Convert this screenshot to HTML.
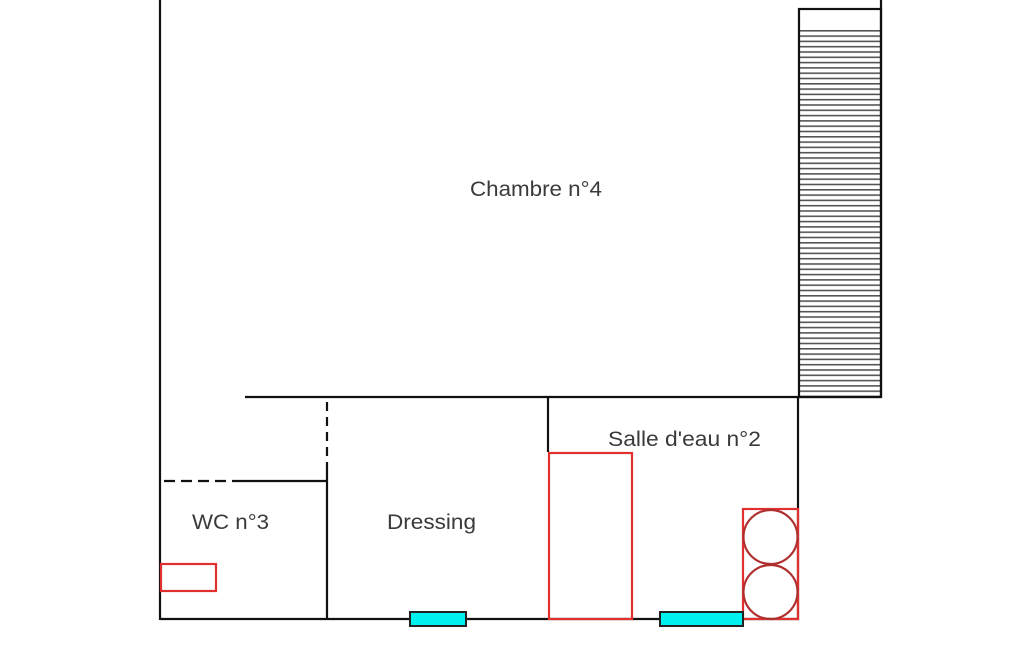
<!DOCTYPE html>
<html><head><meta charset="utf-8"><style>
html,body{margin:0;padding:0;background:#fff;}
svg{display:block;}
text{font-family:"Liberation Sans",Arial,sans-serif;fill:#3a3a3a;}
</style></head><body>
<svg width="1025" height="650" viewBox="0 0 1025 650" xmlns="http://www.w3.org/2000/svg">
<defs>
<pattern id="h" x="0" y="30" width="10" height="5.3" patternUnits="userSpaceOnUse">
<rect x="0" y="0" width="10" height="1.6" fill="#555"/>
</pattern>
</defs>
<rect width="1025" height="650" fill="#fff"/>
<rect x="799" y="30" width="82" height="366" fill="url(#h)"/>
<g stroke="#111" stroke-width="2.2" fill="none">
<rect x="799" y="9" width="82" height="388"/>
<line x1="881" y1="0" x2="881" y2="397"/>
<line x1="160" y1="0" x2="160" y2="620"/>
<line x1="245" y1="397" x2="881" y2="397"/>
<line x1="160" y1="619" x2="799" y2="619"/>
<line x1="798" y1="397" x2="798" y2="620"/>
<line x1="548" y1="397" x2="548" y2="452"/>
<line x1="327" y1="470" x2="327" y2="619"/>
<line x1="240" y1="481" x2="327" y2="481"/>
<line x1="327" y1="402" x2="327" y2="470" stroke-dasharray="9,6"/>
<line x1="164" y1="481" x2="240" y2="481" stroke-dasharray="11,6"/>
</g>
<g stroke="#e03030" stroke-width="2.2" fill="none">
<rect x="549" y="453" width="83" height="166"/>
<rect x="161" y="564" width="55" height="27"/>
<rect x="743" y="509" width="55" height="110"/>
<circle cx="770.5" cy="537" r="27" stroke="#b03030"/>
<circle cx="770.5" cy="592" r="27" stroke="#b03030"/>
</g>
<g fill="#00f0f0" stroke="#222" stroke-width="2">
<rect x="410" y="612" width="56" height="14"/>
<rect x="660" y="612" width="83" height="14"/>
</g>
<text x="470" y="196" font-size="21" textLength="132" lengthAdjust="spacingAndGlyphs">Chambre n°4</text>
<text x="608" y="446" font-size="21" textLength="153" lengthAdjust="spacingAndGlyphs">Salle d'eau n°2</text>
<text x="192" y="529" font-size="21" textLength="77" lengthAdjust="spacingAndGlyphs">WC n°3</text>
<text x="387" y="529" font-size="21" textLength="89" lengthAdjust="spacingAndGlyphs">Dressing</text>
</svg>
</body></html>
